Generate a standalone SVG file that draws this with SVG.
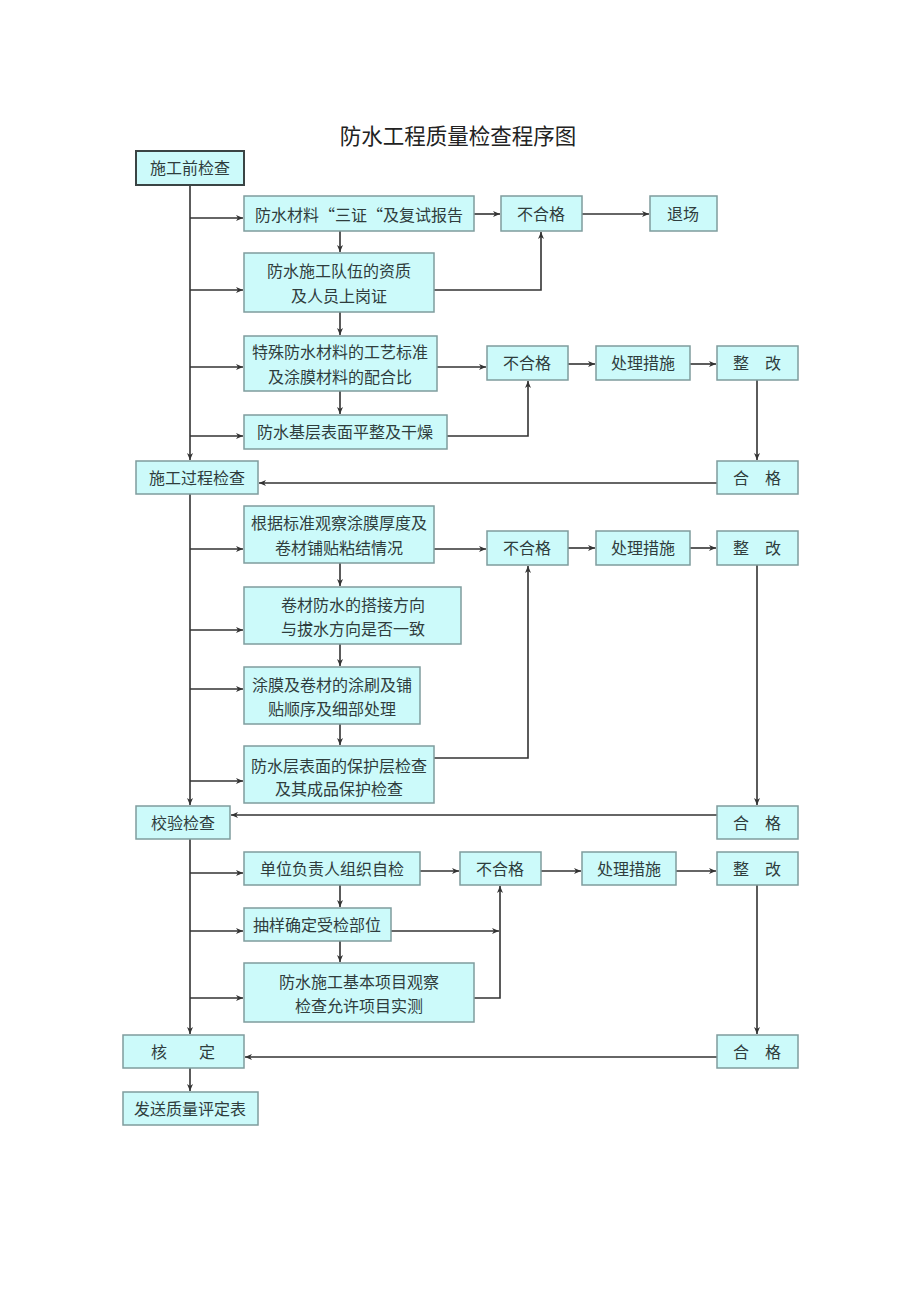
<svg xmlns="http://www.w3.org/2000/svg" width="920" height="1301" viewBox="0 0 920 1301">
<defs>
<marker id="ah" markerWidth="8" markerHeight="8" refX="7" refY="4" orient="auto" markerUnits="userSpaceOnUse">
<path d="M0,1 L7,4 L0,7 L2,4 Z" fill="#333"/>
</marker>
<style>
.b{fill:#ccfafa;stroke:#7f9c9d;stroke-width:1.5}
.d{fill:#ccfafa;stroke:#3a4444;stroke-width:2}
.t{font-family:"Liberation Serif","Noto Sans CJK SC",serif;font-size:16px;fill:#2f3d3d;text-anchor:middle;dominant-baseline:central}
.c{fill:none;stroke:#333;stroke-width:1.6}
.a{marker-end:url(#ah)}
</style>
</defs>
<rect width="920" height="1301" fill="#fff"/>
<text x="458" y="137" style="font-family:'Liberation Serif','Noto Sans CJK SC',serif;font-size:21.5px;fill:#222;text-anchor:middle;dominant-baseline:central">防水工程质量检查程序图</text>

<g id="connectors">
<path class="c a" d="M190,185 V460"/>
<path class="c a" d="M190,218 H243"/>
<path class="c a" d="M190,290 H243"/>
<path class="c a" d="M190,367 H243"/>
<path class="c a" d="M190,436 H243"/>
<path class="c a" d="M340,231 V252"/>
<path class="c a" d="M340,312 V335"/>
<path class="c a" d="M340,391 V414"/>
<path class="c a" d="M474,214 H500"/>
<path class="c a" d="M582,214 H649"/>
<path class="c a" d="M434,290 H541 V232"/>
<path class="c a" d="M437,367 H486"/>
<path class="c a" d="M568,364 H595"/>
<path class="c a" d="M690,364 H716"/>
<path class="c a" d="M447,436 H528 V381"/>
<path class="c a" d="M757,380 V460"/>
<path class="c a" d="M717,483 H259"/>
<path class="c a" d="M190,494 V805"/>
<path class="c a" d="M190,549 H243"/>
<path class="c a" d="M190,630 H243"/>
<path class="c a" d="M190,689 H243"/>
<path class="c a" d="M190,781 H243"/>
<path class="c a" d="M340,563 V586"/>
<path class="c a" d="M340,644 V666"/>
<path class="c a" d="M340,724 V745"/>
<path class="c a" d="M434,549 H486"/>
<path class="c a" d="M568,548 H595"/>
<path class="c a" d="M690,548 H716"/>
<path class="c a" d="M434,758 H528 V566"/>
<path class="c a" d="M757,565 V805"/>
<path class="c a" d="M717,815 H231"/>
<path class="c a" d="M190,839 V1034"/>
<path class="c a" d="M190,873 H243"/>
<path class="c a" d="M190,931 H243"/>
<path class="c a" d="M190,998 H243"/>
<path class="c a" d="M340,885 V907"/>
<path class="c a" d="M340,941 V962"/>
<path class="c a" d="M420,871 H459"/>
<path class="c a" d="M541,871 H581"/>
<path class="c a" d="M676,871 H716"/>
<path class="c a" d="M391,931 H499"/>
<path class="c a" d="M474,998 H500 V886"/>
<path class="c a" d="M757,885 V1034"/>
<path class="c a" d="M717,1057 H245"/>
<path class="c a" d="M190,1068 V1091"/>
</g>

<g id="n1"><rect class="d" x="136" y="151" width="108" height="34"/><text class="t" x="190" y="168">施工前检查</text></g>
<g id="n2"><rect class="b" x="244" y="196" width="230" height="35"/><text class="t" x="359" y="214" style="font-family:'Noto Sans CJK SC',sans-serif">防水材料“三证“及复试报告</text></g>
<g id="n3"><rect class="b" x="501" y="196" width="81" height="35"/><text class="t" x="541" y="214">不合格</text></g>
<g id="n4"><rect class="b" x="650" y="196" width="67" height="35"/><text class="t" x="683" y="214">退场</text></g>
<g id="n5"><rect class="b" x="244" y="253" width="190" height="59"/><text class="t" x="339" y="271">防水施工队伍的资质</text><text class="t" x="339" y="296">及人员上岗证</text></g>
<g id="n6"><rect class="b" x="244" y="336" width="193" height="55"/><text class="t" x="340" y="352">特殊防水材料的工艺标准</text><text class="t" x="340" y="377">及涂膜材料的配合比</text></g>
<g id="n7"><rect class="b" x="487" y="346" width="81" height="34"/><text class="t" x="527" y="363">不合格</text></g>
<g id="n8"><rect class="b" x="596" y="346" width="94" height="34"/><text class="t" x="643" y="363">处理措施</text></g>
<g id="n9"><rect class="b" x="717" y="346" width="81" height="34"/><text class="t" x="757" y="363">整　改</text></g>
<g id="n10"><rect class="b" x="244" y="415" width="203" height="34"/><text class="t" x="345" y="432">防水基层表面平整及干燥</text></g>
<g id="n11"><rect class="b" x="136" y="461" width="122" height="33"/><text class="t" x="197" y="478">施工过程检查</text></g>
<g id="n12"><rect class="b" x="717" y="461" width="81" height="33"/><text class="t" x="757" y="478">合　格</text></g>
<g id="n13"><rect class="b" x="244" y="506" width="190" height="57"/><text class="t" x="339" y="523">根据标准观察涂膜厚度及</text><text class="t" x="339" y="548">卷材铺贴粘结情况</text></g>
<g id="n14"><rect class="b" x="487" y="531" width="81" height="34"/><text class="t" x="527" y="548">不合格</text></g>
<g id="n15"><rect class="b" x="596" y="531" width="94" height="34"/><text class="t" x="643" y="548">处理措施</text></g>
<g id="n16"><rect class="b" x="717" y="531" width="81" height="34"/><text class="t" x="757" y="548">整　改</text></g>
<g id="n17"><rect class="b" x="244" y="587" width="217" height="57"/><text class="t" x="353" y="605">卷材防水的搭接方向</text><text class="t" x="353" y="629">与拔水方向是否一致</text></g>
<g id="n18"><rect class="b" x="244" y="667" width="176" height="57"/><text class="t" x="332" y="685">涂膜及卷材的涂刷及铺</text><text class="t" x="332" y="709">贴顺序及细部处理</text></g>
<g id="n19"><rect class="b" x="244" y="746" width="190" height="57"/><text class="t" x="339" y="766">防水层表面的保护层检查</text><text class="t" x="339" y="789">及其成品保护检查</text></g>
<g id="n20"><rect class="b" x="136" y="806" width="94" height="33"/><text class="t" x="183" y="823">校验检查</text></g>
<g id="n21"><rect class="b" x="717" y="806" width="81" height="33"/><text class="t" x="757" y="823">合　格</text></g>
<g id="n22"><rect class="b" x="244" y="852" width="176" height="33"/><text class="t" x="332" y="869">单位负责人组织自检</text></g>
<g id="n23"><rect class="b" x="460" y="852" width="81" height="33"/><text class="t" x="500" y="869">不合格</text></g>
<g id="n24"><rect class="b" x="582" y="852" width="94" height="33"/><text class="t" x="629" y="869">处理措施</text></g>
<g id="n25"><rect class="b" x="717" y="852" width="81" height="33"/><text class="t" x="757" y="869">整　改</text></g>
<g id="n26"><rect class="b" x="244" y="908" width="147" height="33"/><text class="t" x="317" y="925">抽样确定受检部位</text></g>
<g id="n27"><rect class="b" x="244" y="963" width="230" height="59"/><text class="t" x="359" y="982">防水施工基本项目观察</text><text class="t" x="359" y="1006">检查允许项目实测</text></g>
<g id="n28"><rect class="b" x="123" y="1035" width="121" height="33"/><text class="t" x="183" y="1052">核　　定</text></g>
<g id="n29"><rect class="b" x="717" y="1035" width="81" height="33"/><text class="t" x="757" y="1052">合　格</text></g>
<g id="n30"><rect class="b" x="123" y="1092" width="135" height="33"/><text class="t" x="190" y="1109">发送质量评定表</text></g>
</svg>
